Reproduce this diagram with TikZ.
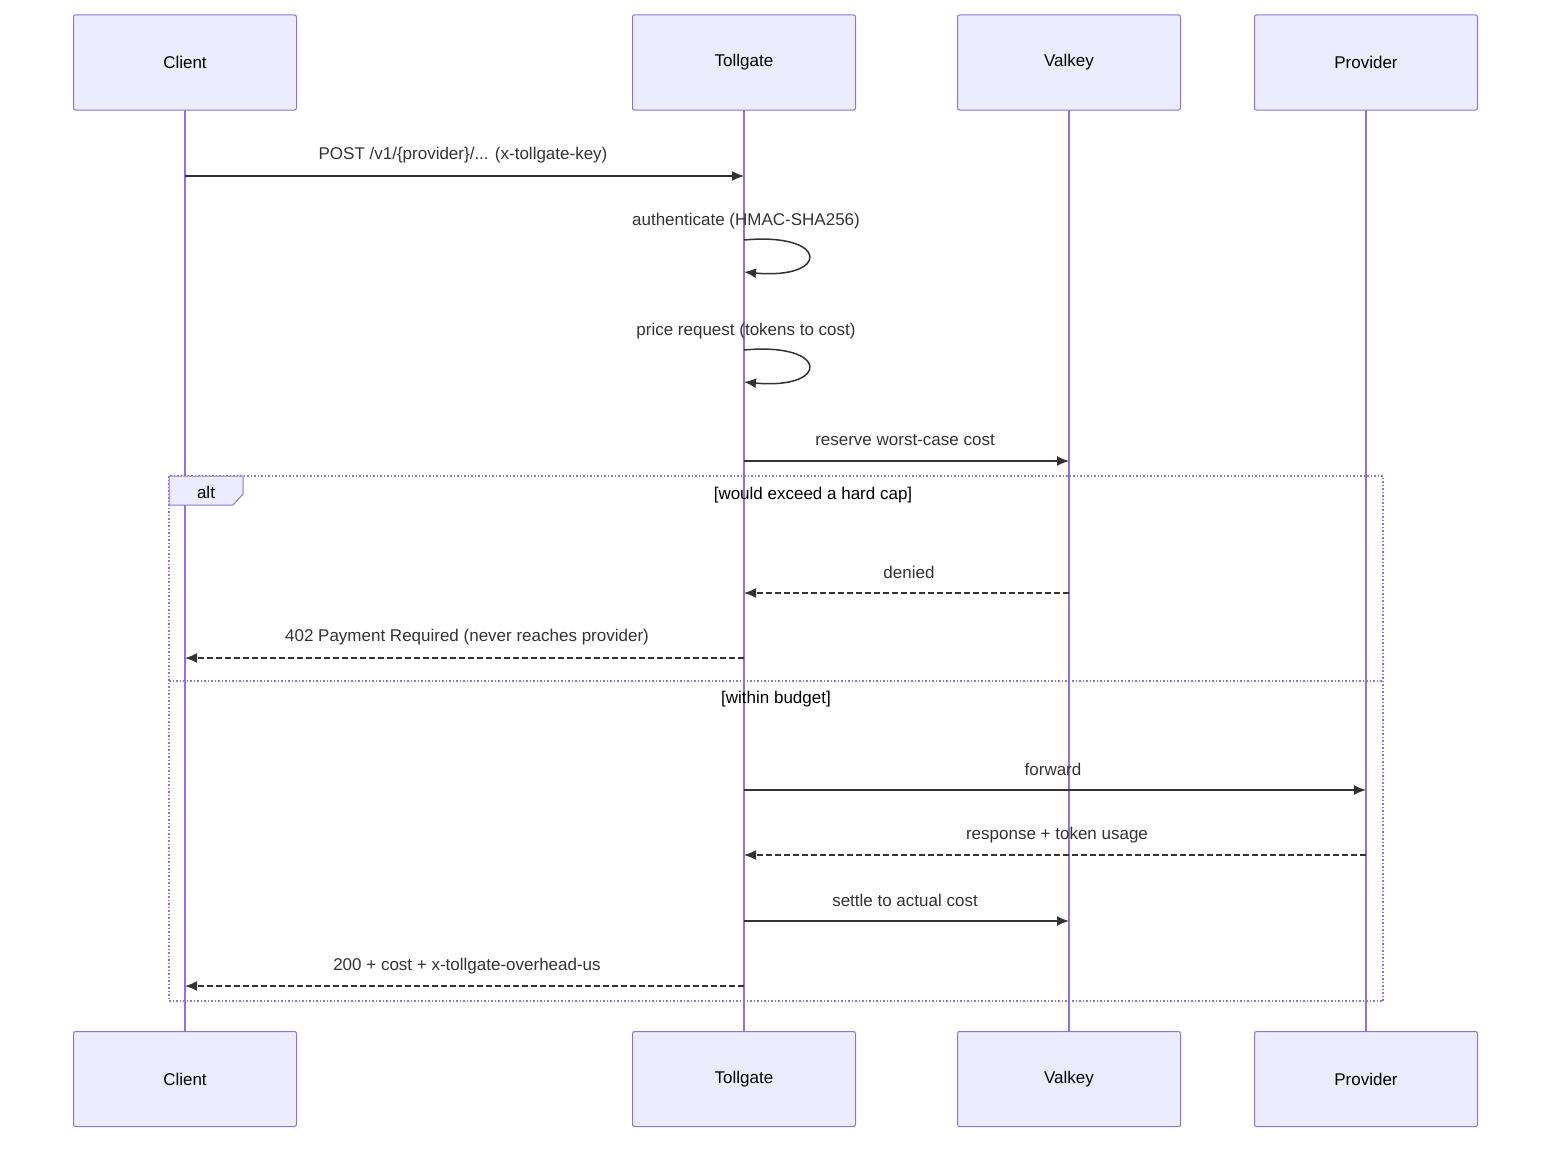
\documentclass[tikz,border=0pt]{standalone}
\usepackage{fontspec}
\setmainfont{Liberation Sans}
\usetikzlibrary{arrows.meta}
\definecolor{actfill}{HTML}{ECECFF}
\definecolor{actline}{HTML}{9370DB}
\definecolor{ink}{HTML}{333333}
\tikzset{
 actor/.style={draw=actline,fill=actfill,line width=1pt,rounded corners=2pt,minimum width=223pt,minimum height=95pt,font=\fontsize{17}{20}\selectfont,text=black},
 life/.style={draw=actline,line width=2pt},
 msg/.style={draw=ink,line width=1.5pt,-{Latex[length=12pt,width=10pt]}},
 rmsg/.style={msg,dashed,dash pattern=on 6pt off 3pt},
 lbl/.style={font=\fontsize{17}{20}\selectfont,text=ink},
 frame/.style={draw=actline,line width=1.5pt,dotted}
}
\begin{document}
\begin{tikzpicture}[x=1pt,y=-1pt]
\useasboundingbox (0,0) rectangle (1568,1156);
\foreach \n/\x/\t in {c/185/Client,t/744/Tollgate,v/1069/Valkey,p/1366/Provider}{
 \draw[life] (\x,110) -- (\x,1031);
 \node[actor] (\n top) at (\x,62.5) {\t};
 \node[actor] (\n bot) at (\x,1079) {\t};
}
% alt frame
\draw[frame] (169,476) rectangle (1383,1001);
\draw[frame] (169,681) -- (1383,681);
\draw[draw=actline,fill=actfill,line width=1pt] (169,476) -- (243,476) -- (243,494) -- (233,505) -- (169,505) -- cycle;
\node[lbl,text=black] (alt) at (206,492) {alt};
\node[lbl,text=black] (g1) at (813,495) {[would exceed a hard cap]};
\node[lbl,text=black] (g2) at (776,699) {[within budget]};
% messages
\foreach \n/\y in {1/176,4/461,5/593,6/658,7/790,8/855,9/921,10/986}{
 \coordinate (c\n) at (185,\y); \coordinate (t\n) at (744,\y);
 \coordinate (v\n) at (1069,\y); \coordinate (p\n) at (1366,\y);}
\draw[msg] (c1) -- (t1);
\node[lbl] (l1) at (463,155) {POST /v1/\{provider\}/... (x-tollgate-key)};
\coordinate (s1) at (744,240); \coordinate (s2) at (744,272);
\draw[msg] (s1) .. controls (830,232) and (830,280) .. (s2);
\node[lbl] (l2) at (746,221) {authenticate (HMAC-SHA256)};
\coordinate (s3) at (744,350); \coordinate (s4) at (744,382);
\draw[msg] (s3) .. controls (830,342) and (830,390) .. (s4);
\node[lbl] (l3) at (746,331) {price request (tokens to cost)};
\draw[msg] (t4) -- (v4);
\node[lbl] (l4) at (905,440) {reserve worst-case cost};
\draw[rmsg] (v5) -- (t5);
\node[lbl] (l5) at (909,572) {denied};
\draw[rmsg] (t6) -- (c6);
\node[lbl] (l6) at (467,637) {402 Payment Required (never reaches provider)};
\draw[msg] (t7) -- (p7);
\node[lbl] (l7) at (1053,769) {forward};
\draw[rmsg] (p8) -- (t8);
\node[lbl] (l8) at (1057,835) {response + token usage};
\draw[msg] (t9) -- (v9);
\node[lbl] (l9) at (905,900) {settle to actual cost};
\draw[rmsg] (t10) -- (c10);
\node[lbl] (l10) at (467,966) {200 + cost + x-tollgate-overhead-us};
\end{tikzpicture}
\end{document}
